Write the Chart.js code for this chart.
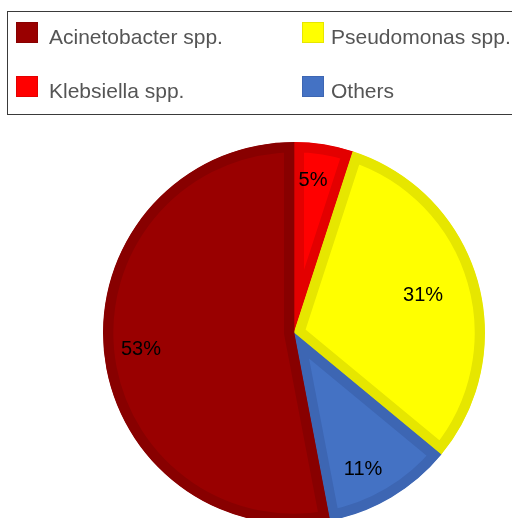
<!DOCTYPE html>
<html>
<head>
<meta charset="utf-8">
<script src="https://cdn.jsdelivr.net/npm/chart.js@4/dist/chart.umd.min.js"></script>
<style>
  html, body { margin:0; padding:0; background:#fff; width:512px; height:518px; overflow:hidden; }
  #wrap { position:absolute; left:0; top:0; width:512px; height:518px; }
  #legend { position:absolute; left:7px; top:11px; width:520px; height:104px; border:1px solid #3a3a3a; box-sizing:border-box; font-family:"Liberation Sans", Arial, sans-serif; font-size:21px; color:#555; }
  .sw { position:absolute; width:22px; height:21px; box-sizing:border-box; border:1px solid; }
  .tx { position:absolute; height:24px; line-height:24px; white-space:nowrap; }
</style>
</head>
<body>
<div id="wrap"><canvas id="c" width="512" height="518"></canvas></div>
<div id="legend"></div>
<script>
// Data (clockwise from 12 o'clock)
const categories = ['Klebsiella spp.', 'Pseudomonas spp.', 'Others', 'Acinetobacter spp.'];
const values = [5, 31, 11, 53];
const valueLabels = ['5%', '31%', '11%', '53%'];
const legendOrder = ['Acinetobacter spp.', 'Pseudomonas spp.', 'Klebsiella spp.', 'Others'];

// Styles
const fillColors = ['#ff0000', '#ffff00', '#4472c4', '#990000'];
const borderColors = ['#e30000', '#e6e600', '#3d66b3', '#880000'];
const labelRadiusFactor = [0.806, 0.704, 0.8, 0.806];
const labelAngleShiftDeg = [-1.9, 0, 3.7, -0.6];

// HTML legend built from data arrays
const legend = document.getElementById('legend');
const swLeft = [8, 294], txLeft = [41, 323], rowTop = [10, 64];
legendOrder.forEach((name, k) => {
  const i = categories.indexOf(name);
  const col = k % 2, row = Math.floor(k / 2);
  const sw = document.createElement('div');
  sw.className = 'sw';
  sw.style.left = swLeft[col] + 'px';
  sw.style.top = rowTop[row] + 'px';
  sw.style.background = fillColors[i];
  sw.style.borderColor = borderColors[i];
  const tx = document.createElement('div');
  tx.className = 'tx';
  tx.style.left = txLeft[col] + 'px';
  tx.style.top = (rowTop[row] + 3) + 'px';
  tx.textContent = name;
  legend.appendChild(sw); legend.appendChild(tx);
});

const pctLabels = {
  id: 'pctLabels',
  afterDatasetsDraw(chart) {
    const ctx = chart.ctx;
    const meta = chart.getDatasetMeta(0);
    ctx.save();
    ctx.font = '20px "Liberation Sans", Arial, sans-serif';
    ctx.fillStyle = '#000';
    ctx.textAlign = 'center';
    ctx.textBaseline = 'middle';
    meta.data.forEach((arc, i) => {
      const p = arc.getProps(['x', 'y', 'startAngle', 'endAngle', 'outerRadius'], true);
      const mid = (p.startAngle + p.endAngle) / 2 + labelAngleShiftDeg[i] * Math.PI / 180;
      const r = p.outerRadius * labelRadiusFactor[i];
      ctx.fillText(valueLabels[i], p.x + Math.cos(mid) * r, p.y + Math.sin(mid) * r);
    });
    ctx.restore();
  }
};

new Chart(document.getElementById('c'), {
  type: 'pie',
  data: {
    labels: categories,
    datasets: [{
      data: values,
      backgroundColor: fillColors,
      borderColor: borderColors,
      borderWidth: 10,
      borderAlign: 'inner',
      hoverOffset: 0,
      clip: false
    }]
  },
  options: {
    responsive: false,
    animation: false,
    radius: 191,
    layout: { padding: { left: 76, right: 0, top: 148, bottom: 0 } },
    plugins: { legend: { display: false }, tooltip: { enabled: false } },
    events: []
  },
  plugins: [pctLabels]
});
</script>
</body>
</html>
